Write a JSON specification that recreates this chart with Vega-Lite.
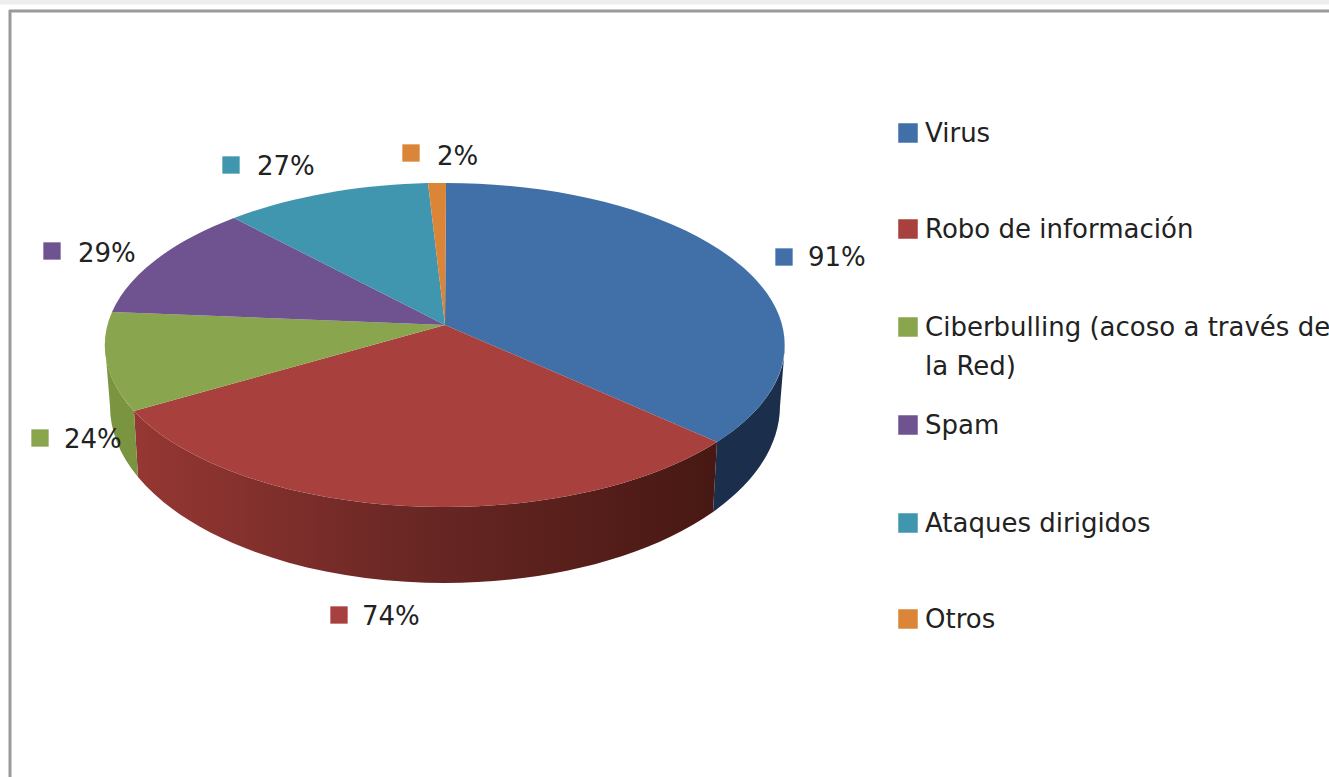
{
"$schema":"https://vega.github.io/schema/vega-lite/v6.json",
"width":1329,"height":777,"padding":0,"autosize":{"type":"none"},
"background":"white",
"config":{"view":{"stroke":null},"font":"DejaVu Sans"},
"data":{"values":[
{"category":"Virus","value":91,"pct":"91%","legendLabel":"Virus"},
{"category":"Robo de información","value":74,"pct":"74%","legendLabel":"Robo de información"},
{"category":"Ciberbulling (acoso a través de la Red)","value":24,"pct":"24%","legendLabel":"Ciberbulling (acoso a través de\nla Red)"},
{"category":"Spam","value":29,"pct":"29%","legendLabel":"Spam"},
{"category":"Ataques dirigidos","value":27,"pct":"27%","legendLabel":"Ataques dirigidos"},
{"category":"Otros","value":2,"pct":"2%","legendLabel":"Otros"}
]},
"layer":[
{"data":{"values":[{}]},"mark":{"type":"rule","color":"#ededed","strokeWidth":5},"encoding":{"x":{"value":0},"x2":{"value":1329},"y":{"value":2}}},
{"data":{"values":[{}]},"mark":{"type":"rule","color":"#9a9a9a","strokeWidth":3},"encoding":{"x":{"value":9},"x2":{"value":1329},"y":{"value":11}}},
{"data":{"values":[{}]},"mark":{"type":"rule","color":"#9a9a9a","strokeWidth":3},"encoding":{"x":{"value":10},"y":{"value":10},"y2":{"value":777}}},
{"transform":[{"filter":"datum.category==='Virus'"}],
 "mark":{"type":"point","filled":true,"opacity":1,"size":4,"strokeWidth":0,"fill":"#1b2f4c","shape":"M340,0 A340,162 0 0 1 272,97 L268,167 A335,177 0 0 0 335,61 Z"},
 "encoding":{"x":{"value":445},"y":{"value":345}}},
{"transform":[{"filter":"datum.category==='Robo de información'"}],
 "mark":{"type":"point","filled":true,"opacity":1,"size":4,"strokeWidth":0,
  "fill":{"gradient":"linear","x1":0,"y1":0,"x2":1,"y2":0,"stops":[{"offset":0,"color":"#963733"},{"offset":0.45,"color":"#6c2825"},{"offset":1,"color":"#471813"}]},
  "shape":"M272,97 A340,162 0 0 1 -311,66 L-307,132 A335,177 0 0 0 268,167 Z"},
 "encoding":{"x":{"value":445},"y":{"value":345}}},
{"transform":[{"filter":"datum.value===24"}],
 "mark":{"type":"point","filled":true,"opacity":1,"size":4,"strokeWidth":0,"fill":"#7a9440","shape":"M-311,66 A340,162 0 0 1 -340,0 L-335,61 A335,177 0 0 0 -307,132 Z"},
 "encoding":{"x":{"value":445},"y":{"value":345}}},
{"mark":{"type":"point","filled":true,"opacity":1,"size":4,"strokeWidth":0},
 "encoding":{"x":{"value":445},"y":{"value":345},
  "shape":{"field":"category","type":"nominal","legend":null,"scale":{
   "domain":["Virus","Robo de información","Ciberbulling (acoso a través de la Red)","Spam","Ataques dirigidos","Otros"],
   "range":[
    "M0,-20 L1,-162 A340,162 0 0 1 272,97 Z",
    "M0,-20 L272,97 A340,162 0 0 1 -311,66 Z",
    "M0,-20 L-311,66 A340,162 0 0 1 -333,-33 Z",
    "M0,-20 L-333,-33 A340,162 0 0 1 -211,-127 Z",
    "M0,-20 L-211,-127 A340,162 0 0 1 -17,-162 Z",
    "M0,-20 L-17,-162 A340,162 0 0 1 1,-162 Z"]}},
  "fill":{"field":"category","type":"nominal","sort":null,"legend":null,
   "scale":{"domain":["Virus","Robo de información","Ciberbulling (acoso a través de la Red)","Spam","Ataques dirigidos","Otros"],
    "range":["#4170a8","#a8403d","#89a54e","#6f5391","#3f96ae","#da8537"]}}}},
{"mark":{"type":"point","filled":true,"opacity":1,"shape":"square","size":300,"strokeWidth":0},
 "encoding":{
  "x":{"field":"value","type":"quantitative","axis":null,"scale":{"type":"linear","nice":false,"zero":false,"domain":[2,24,27,29,74,91],"range":[411,40,231,52,339,784]}},
  "y":{"field":"value","type":"quantitative","axis":null,"scale":{"type":"linear","nice":false,"zero":false,"domain":[2,24,27,29,74,91],"range":[153,438,165,251,615,257]}},
  "fill":{"field":"category","type":"nominal","sort":null,"legend":null}}},
{"mark":{"type":"text","align":"left","baseline":"middle","fontSize":26,"font":"DejaVu Sans","color":"#222222"},
 "encoding":{
  "x":{"field":"value","type":"quantitative","axis":null,"scale":{"type":"linear","nice":false,"zero":false,"domain":[2,24,27,29,74,91],"range":[437,64,257,78,362,808]}},
  "y":{"field":"value","type":"quantitative","axis":null,"scale":{"type":"linear","nice":false,"zero":false,"domain":[2,24,27,29,74,91],"range":[157,440,167,254,617,258]}},
  "text":{"field":"pct"}}},
{"mark":{"type":"point","filled":true,"opacity":1,"shape":"square","size":380,"strokeWidth":0},
 "encoding":{
  "x":{"value":908},
  "y":{"field":"value","type":"quantitative","axis":null,"scale":{"type":"linear","nice":false,"zero":false,"domain":[2,24,27,29,74,91],"range":[619,327,523,425,229,133]}},
  "fill":{"field":"category","type":"nominal","sort":null,"legend":null}}},
{"mark":{"type":"text","align":"left","baseline":"alphabetic","fontSize":26,"font":"DejaVu Sans","color":"#222222","lineBreak":"\n","lineHeight":39},
 "encoding":{
  "x":{"value":925},
  "y":{"field":"value","type":"quantitative","axis":null,"scale":{"type":"linear","nice":false,"zero":false,"domain":[2,24,27,29,74,91],"range":[628,336,532,434,238,142]}},
  "text":{"field":"legendLabel"}}}
],
"resolve":{"scale":{"x":"independent","y":"independent"}}
}
